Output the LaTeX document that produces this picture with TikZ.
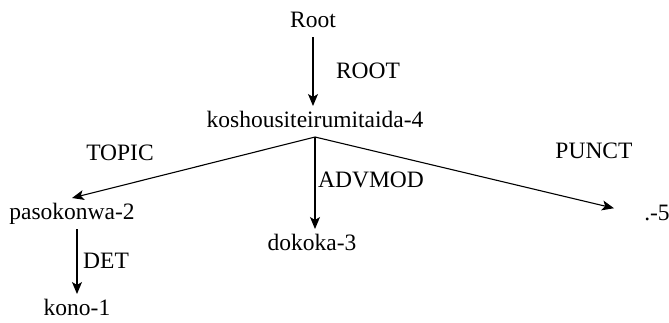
\documentclass[tikz,border=0pt]{standalone}
\usepackage{fontspec}
\setmainfont{Liberation Serif}
\usetikzlibrary{arrows.meta}

\begin{document}
\begin{tikzpicture}[%
			x=1pt, y=-1pt,
			word/.style={anchor=base, inner sep=0pt, outer sep=4pt, text height=17pt, text depth=6pt, font=\fontsize{23.5}{28}\selectfont},
			rel/.style={anchor=base, inner sep=0pt, font=\fontsize{23.5}{28}\selectfont},
			dep/.style={draw, line width=1.1pt, -{Stealth[length=12pt, width=10pt, inset=3pt]}}]
			\useasboundingbox (0,0) rectangle (669,322);
			\node[word](root) at (313,27){Root};
			\node[word](kosh) at (315,127){koshousiteirumitaida-4};
			\node[word](paso) at (72,219){pasokonwa-2};
			\node[word](kono) at (77,315){kono-1};
			\node[word](doko) at (312,250){dokoka-3};
			\node[word](dot) at (657,220){.-5};
			\node[rel](lroot) at (368,78){ROOT};
			\node[rel](ltopic) at (120,160){TOPIC};
			\node[rel, anchor=base west](ladvmod) at (318,187){ADVMOD};
			\node[rel](lpunct) at (594,158){PUNCT};
			\node[rel, anchor=base west](ldet) at (83,268){DET};
			\path[dep] (root.south) -- (root.south |- kosh.north);
			\path[dep] (kosh.south) -- (paso.north);
			\path[dep] (kosh.south) -- (kosh.south |- doko.north);
			\path[dep, shorten >=27pt] (kosh.south) -- (dot.west);
			\path[dep] (kono.north |- paso.south) -- (kono.north);
	\end{tikzpicture}
\end{document}
